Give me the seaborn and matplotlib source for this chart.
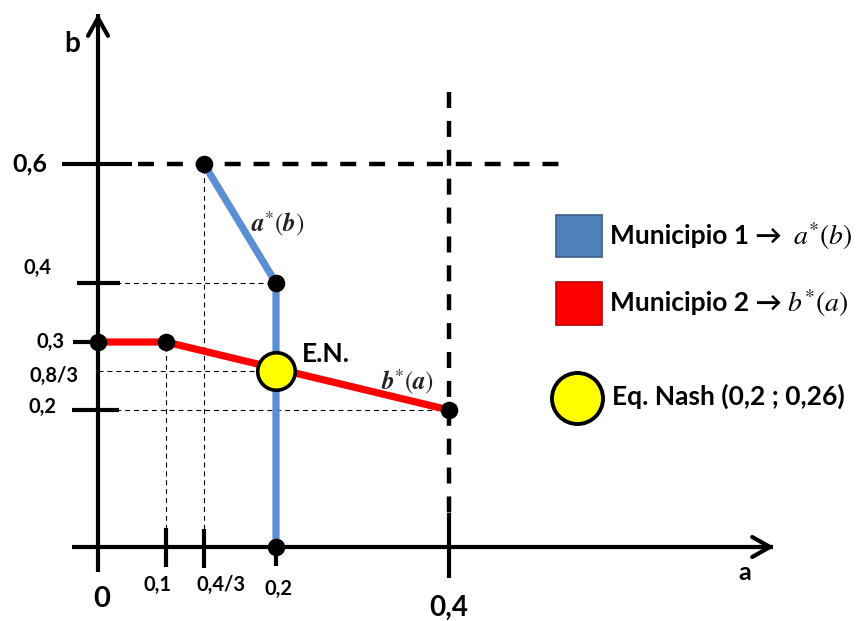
import numpy as np
import pandas as pd
import matplotlib
matplotlib.use("Agg")
import matplotlib.pyplot as plt
import matplotlib.transforms as mtransforms
from matplotlib.patches import Rectangle, FancyArrowPatch
import seaborn as sns

# ---------------- data ----------------
a_ticks = [0, 0.1, 0.4 / 3, 0.2, 0.4]
a_tick_labels = ["0", "0,1", "0,4/3", "0,2", "0,4"]
b_ticks = [0, 0.2, 0.8 / 3, 0.3, 0.4, 0.6]
b_tick_labels = ["", "0,2", "0,8/3", "0,3", "0,4", "0,6"]

# Municipio 1 best response a*(b)
m1_a = [0.4 / 3, 0.2, 0.2]
m1_b = [0.6, 0.4, 0.0]
# Municipio 2 best response b*(a)
m2_a = [0.0, 0.1, 0.4]
m2_b = [0.3, 0.3, 0.2]
# kink / end points
pts_a = [0.4 / 3, 0.2, 0.0, 0.1, 0.4, 0.2]
pts_b = [0.6, 0.4, 0.3, 0.3, 0.2, 0.0]
# Nash equilibrium
nash_a = [0.2]
nash_b = [0.8 / 3]

legend_labels = ["Municipio 1 \u2192", "Municipio 2 \u2192", "Eq. Nash (0,2 ; 0,26)"]

# ---------------- style ----------------
sns.set_theme(style="white")
plt.rcParams["font.family"] = ["Lato", "DejaVu Sans"]
plt.rcParams["mathtext.fontset"] = "stix"

W, H = 862, 621
fig = plt.figure(figsize=(W / 100, H / 100), dpi=100)
ax = fig.add_axes([0, 0, 1, 1])

BLUE = "#5A8ED5"
RED = "#FF0000"

df1 = pd.DataFrame({"a": m1_a, "b": m1_b})
df2 = pd.DataFrame({"a": m2_a, "b": m2_b})
dfp = pd.DataFrame({"a": pts_a, "b": pts_b})
dfn = pd.DataFrame({"a": nash_a, "b": nash_b})

sns.lineplot(data=df1, x="a", y="b", sort=False, estimator=None, color=BLUE,
             lw=5.2, ax=ax, zorder=4, solid_capstyle="butt")
sns.lineplot(data=df2, x="a", y="b", sort=False, estimator=None, color=RED,
             lw=5.2, ax=ax, zorder=4, solid_capstyle="butt")
sns.scatterplot(data=dfp, x="a", y="b", color="black", s=160, ax=ax,
                zorder=6, edgecolor="black", linewidth=0)
sns.scatterplot(data=dfn, x="a", y="b", color="#FFFF00", s=730, ax=ax,
                zorder=7, edgecolor="black", linewidth=2.6)


# schematic (non-uniform) scale: value -> pixel position in the sketch
def make_pw(vals, pix):
    vals = np.asarray(vals, float)
    pix = np.asarray(pix, float)
    s0 = (pix[1] - pix[0]) / (vals[1] - vals[0])
    s1 = (pix[-1] - pix[-2]) / (vals[-1] - vals[-2])

    def fwd(v):
        v = np.asarray(v, float)
        out = np.interp(v, vals, pix)
        out = np.where(v < vals[0], pix[0] + (v - vals[0]) * s0, out)
        out = np.where(v > vals[-1], pix[-1] + (v - vals[-1]) * s1, out)
        return out

    def inv(p):
        p = np.asarray(p, float)
        out = np.interp(p, pix, vals)
        out = np.where(p < pix[0], vals[0] + (p - pix[0]) / s0, out)
        out = np.where(p > pix[-1], vals[-1] + (p - pix[-1]) / s1, out)
        return out

    return fwd, inv


fx, ix = make_pw(a_ticks, [98, 166, 204, 276, 449])
fy, iy = make_pw(b_ticks, [H - 547, H - 410, H - 371, H - 342, H - 283, H - 164])
ax.set_xscale("function", functions=(fx, ix))
ax.set_yscale("function", functions=(fy, iy))
ax.set_xlim(float(ix(0)), float(ix(W)))
ax.set_ylim(float(iy(0)), float(iy(H)))
ax.axis("off")


def X(p):  # pixel x -> data a
    return float(ix(p))


def Y(p):  # pixel y (from top) -> data b
    return float(iy(H - p))


# pixel transform (origin top-left)
PX = mtransforms.Affine2D().scale(1 / W, -1 / H).translate(0, 1) + fig.transFigure

# thin guide lines
thin = dict(color="black", lw=0.8, ls=(0, (4.5, 3.5)), zorder=2)
ax.plot([0, 0.2], [0.4, 0.4], **thin)
ax.plot([0, 0.2], [0.8 / 3, 0.8 / 3], **thin)
ax.plot([0, 0.4], [0.2, 0.2], **thin)
ax.plot([0.1, 0.1], [0, 0.3], **thin)
ax.plot([0.4 / 3, 0.4 / 3], [0, 0.6], **thin)

# heavy dashed lines
heavy = dict(color="black", lw=3.2, ls=(0, (3.6, 2.9)), zorder=2, solid_capstyle="butt")
ax.plot([X(138), X(560)], [0.6, 0.6], **heavy)
ax.plot([0.4, 0.4], [Y(92), Y(513)], **heavy)

# axes with arrows
axis_kw = dict(color="black", lw=3.0, zorder=3, solid_capstyle="butt")
ax.plot([0, 0], [Y(572), Y(14)], **axis_kw)
ax.plot([X(72), X(773)], [0, 0], **axis_kw)
for (x0, y0, x1, y1) in [(98, 30, 98, 11), (755, 547, 777, 547)]:
    ar = FancyArrowPatch((x0, y0), (x1, y1), transform=PX,
                         arrowstyle="->,head_length=1.6,head_width=0.9",
                         lw=3.0, color="black", zorder=3, mutation_scale=8)
    ax.add_patch(ar)

# heavy tick marks on b axis
tick_kw = dict(color="black", lw=3.0, zorder=3, solid_capstyle="butt")
ax.plot([X(62), X(132)], [0.6, 0.6], **tick_kw)
ax.plot([X(77), X(120)], [0.4, 0.4], **tick_kw)
ax.plot([X(73), X(100)], [0.3, 0.3], **tick_kw)
ax.plot([X(72), X(119)], [0.2, 0.2], **tick_kw)
# heavy tick marks on a axis
ax.plot([0.1, 0.1], [Y(528), Y(567)], **tick_kw)
ax.plot([0.4 / 3, 0.4 / 3], [Y(529), Y(568)], **tick_kw)
ax.plot([0.2, 0.2], [Y(547), Y(566)], **tick_kw)
ax.plot([0.4, 0.4], [Y(513), Y(578)], **tick_kw)

# tick labels (pixel positions of the sketch)
bold = dict(fontweight="bold", color="black", transform=PX, va="center")
ytl = {"0,6": (30, 164, 18), "0,4": (38, 268, 14.5),
       "0,3": (51, 342, 14.5), "0,8/3": (54, 376, 14.5),
       "0,2": (43, 407, 14.5)}
for lab in b_tick_labels:
    if lab in ytl:
        x, y, fs = ytl[lab]
        ax.text(x, y, lab, fontsize=fs, ha="center", **bold)
xtl = {"0": (102, 599, 21), "0,1": (158, 585, 14.5), "0,4/3": (221, 585, 14.5),
       "0,2": (279, 589, 14.5), "0,4": (449, 608, 20)}
for lab in a_tick_labels:
    x, y, fs = xtl[lab]
    ax.text(x, y, lab, fontsize=fs, ha="center", **bold)

# axis names
ax.text(72, 44, "b", fontsize=20, ha="center", **bold)
ax.text(745, 572, "a", fontsize=18, ha="center", **bold)

# curve annotations
ax.text(278, 224, r"$\mathbfit{a}^{*}(\mathbfit{b})$", fontsize=18,
        ha="center", va="center", transform=PX, color="#222222")
ax.text(408, 382, r"$\mathbfit{b}^{*}(\mathbfit{a})$", fontsize=18,
        ha="center", va="center", transform=PX, color="#222222")
ax.text(302, 354, "E.N.", fontsize=19, ha="left", **bold)

# legend
ax.add_patch(Rectangle((556, 215), 46, 42, transform=PX, facecolor="#4F81BD",
                       edgecolor="#3A5F8B", lw=1.2, zorder=5))
ax.add_patch(Rectangle((556, 282), 46, 43, transform=PX, facecolor="#FF0000",
                       edgecolor="#C00000", lw=1.2, zorder=5))
ax.scatter([577], [398], s=1350, color="#FFFF00", edgecolor="black",
           linewidth=2.8, transform=PX, zorder=5)
ax.text(610, 236, legend_labels[0], fontsize=19, ha="left", **bold)
ax.text(852, 236, r"$a^{*}(b)$", fontsize=20, ha="right", va="center",
        transform=PX, color="black")
ax.text(610, 303, legend_labels[1], fontsize=19, ha="left", **bold)
ax.text(848, 303, r"$b^{*}(a)$", fontsize=20, ha="right", va="center",
        transform=PX, color="black")
ax.text(612, 396, legend_labels[2], fontsize=19, ha="left", **bold)

fig.savefig("out.png", dpi=100, facecolor="white")
